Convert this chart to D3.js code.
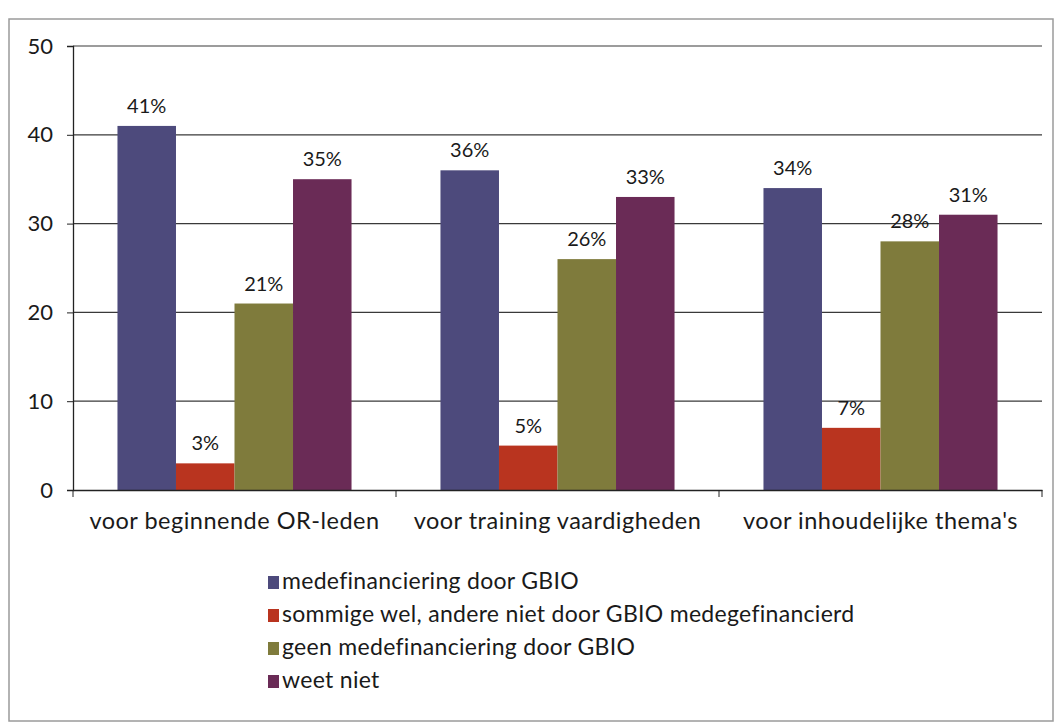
<!DOCTYPE html>
<html><head><meta charset="utf-8">
<script src="https://cdn.jsdelivr.net/npm/d3@7"></script>
<style>body{margin:0;background:#fff}svg{display:block}text{font-family:Lato,"Open Sans",sans-serif;fill:#1a1a1a}</style>
</head><body><svg id="c" width="1061" height="728"></svg>
<script>
const categories = ["voor beginnende OR-leden","voor training vaardigheden","voor inhoudelijke thema's"];
const seriesNames = ["medefinanciering door GBIO","sommige wel, andere niet door GBIO medegefinancierd","geen medefinanciering door GBIO","weet niet"];
const medefinanciering = [41,36,34];
const sommige = [3,5,7];
const geen = [21,26,28];
const weetNiet = [35,33,31];
const yTicks = [0,10,20,30,40,50];
const colors = ["#4d4a7c","#b9341f","#7f7b3c","#6a2b56"];

const series = [medefinanciering, sommige, geen, weetNiet];
const svg = d3.select("#c");
const m = {left:73, right:1042, top:46, bottom:490};
const FF = "Lato,'Open Sans',sans-serif";

svg.append("rect").attr("x",9).attr("y",19).attr("width",1044).attr("height",702)
  .attr("fill","#fff").attr("stroke","#9a9a9a").attr("stroke-width",1.5);

const x0 = d3.scaleBand().domain(categories).range([m.left,m.right]).paddingInner(0).paddingOuter(0);
const x1 = d3.scaleBand().domain(d3.range(4)).range([0,x0.bandwidth()]).paddingInner(0).paddingOuter(0.76);
const y = d3.scaleLinear().domain([0,50]).range([m.bottom,m.top]);

// gridlines
svg.append("g").selectAll("line").data(yTicks.filter(d=>d>0)).join("line")
  .attr("x1",m.left).attr("x2",m.right).attr("y1",d=>y(d)).attr("y2",d=>y(d))
  .attr("stroke","#3a3a3a").attr("stroke-width",1.2);

// bars
const g = svg.append("g");
categories.forEach((c,ci)=>{
  series.forEach((s,si)=>{
    g.append("rect").attr("x",x0(c)+x1(si)).attr("y",y(s[ci]))
     .attr("width",x1.bandwidth()).attr("height",y(0)-y(s[ci])).attr("fill",colors[si]);
    g.append("text").attr("x",x0(c)+x1(si)+x1.bandwidth()/2).attr("y",y(s[ci])-13)
     .attr("text-anchor","middle").attr("font-size",20).text(s[ci]+"%");
  });
});

// y axis
const ya = svg.append("g").attr("transform",`translate(${m.left},0)`)
  .call(d3.axisLeft(y).tickValues(yTicks).tickSize(6).tickPadding(14));
ya.select(".domain").attr("stroke","#222").attr("stroke-width",1.3);
ya.selectAll(".tick line").attr("stroke","#222");
ya.selectAll("text").attr("font-size",22).style("font-family",FF).attr("fill","#1a1a1a");

// x axis
const xa = svg.append("g").attr("transform",`translate(0,${m.bottom})`)
  .call(d3.axisBottom(x0).tickSize(0).tickPadding(22));
xa.select(".domain").attr("stroke","#222").attr("stroke-width",1.3);
xa.selectAll("text").attr("font-size",23.5).style("font-family",FF).attr("fill","#1a1a1a").attr("letter-spacing","0.5");
xa.append("g").selectAll("line").data(d3.range(categories.length+1)).join("line")
  .attr("x1",i=>m.left+i*x0.bandwidth()).attr("x2",i=>m.left+i*x0.bandwidth())
  .attr("y1",0).attr("y2",7).attr("stroke","#222");

// legend
const lg = svg.append("g").attr("transform","translate(268,582)");
seriesNames.forEach((n,i)=>{
  lg.append("rect").attr("x",0).attr("y",i*33-6).attr("width",11).attr("height",13).attr("fill",colors[i]);
  lg.append("text").attr("x",14).attr("y",i*33+7).attr("font-size",23).attr("letter-spacing","0.3").text(n);
});
</script></body></html>
